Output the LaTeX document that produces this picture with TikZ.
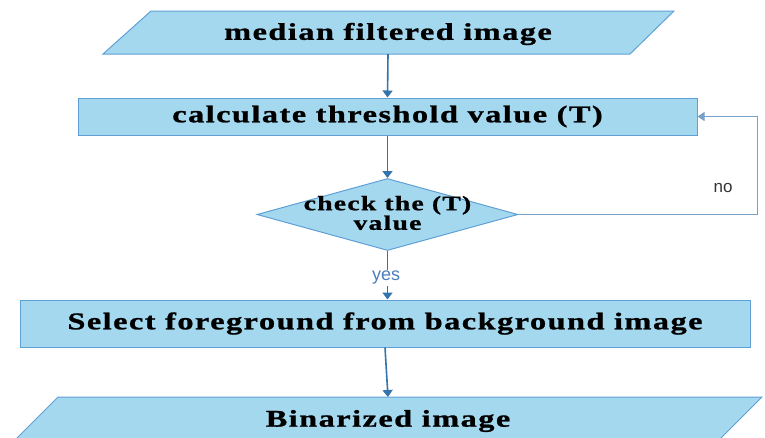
\documentclass[tikz,border=0pt]{standalone}
\usepackage{fontspec}
\usetikzlibrary{arrows.meta,shapes.geometric}
\newfontfamily\boxfont[FakeStretch=1.35,LetterSpace=6,BoldFeatures={FakeBold=1}]{Liberation Serif}
\newfontfamily\lblfont{Liberation Sans}
\definecolor{boxfill}{RGB}{164,216,238}
\definecolor{boxline}{RGB}{96,160,214}
\definecolor{arrcol}{RGB}{52,116,172}
\definecolor{fbcol}{RGB}{120,160,200}
\definecolor{yescol}{RGB}{74,126,187}
\tikzset{
  shapebox/.style={fill=boxfill,draw=boxline,line width=1pt},
  rectbox/.style={shapebox,rectangle,inner sep=0pt,font=\boxfont\bfseries\fontsize{24}{26}\selectfont},
  boxtext/.style={inner sep=0pt,font=\boxfont\bfseries\fontsize{24}{26}\selectfont},
  dtext/.style={inner sep=0pt,align=center,font=\boxfont\bfseries\fontsize{20.5}{17.5}\selectfont},
  plainline/.style={draw=arrcol,line width=1.6pt},
  arr/.style={plainline,-{Triangle[width=10pt,length=7pt]}},
  fbarr/.style={draw=fbcol,line width=1pt,-{Triangle[width=9pt,length=7pt]}},
}
\begin{document}
\begin{tikzpicture}[x=1pt,y=-1pt]
\useasboundingbox (0,0) rectangle (765,437);
% top parallelogram
\filldraw[shapebox] (151,11) -- (674,11) -- (630,54) -- (103,54) -- cycle;
\node[boxtext] (p1) at (388,34) {median filtered image};
\coordinate (p1b) at (388,54);
% calc rect
\node[rectbox,minimum width=619pt,minimum height=37pt] (r2) at (387.5,116.5) {calculate threshold value (T)};
% diamond
\node[shapebox,diamond,inner sep=0pt,minimum width=261pt,minimum height=72pt] (d) at (387.5,214.5) {};
\node[dtext] (dt) at (387.5,213) {check the (T)\\value};
% select rect
\node[rectbox,minimum width=730pt,minimum height=47pt] (r3) at (385,323.5) {Select foreground from background image};
% bottom parallelogram
\filldraw[shapebox] (58,397) -- (762,397) -- (716,443) -- (12,443) -- cycle;
\node[boxtext] (p2) at (388,421) {Binarized image};
\coordinate (p2t) at (388,397);
% yes label
\node[inner sep=1pt,text=yescol,font=\lblfont\fontsize{18}{18}\selectfont] (yes) at (386,278) {yes};
% connectors
\draw[arr] (p1b) -- (r2.north);
\draw[arr] (r2.south) -- (d.north);
\draw[plainline] (d.south) -- (d.south |- yes.north);
\draw[arr] (d.south |- yes.south) -- (r3.north -| d.south);
\draw[arr] (r3.south) -- (p2t);
\coordinate (fb) at (757,214.5);
\draw[fbarr] (d.east) -- (fb) |- (r2.east);
\node[font=\lblfont\fontsize{17}{17}\selectfont,text=black!80] (no) at (723,188) {no};
\end{tikzpicture}
\end{document}
